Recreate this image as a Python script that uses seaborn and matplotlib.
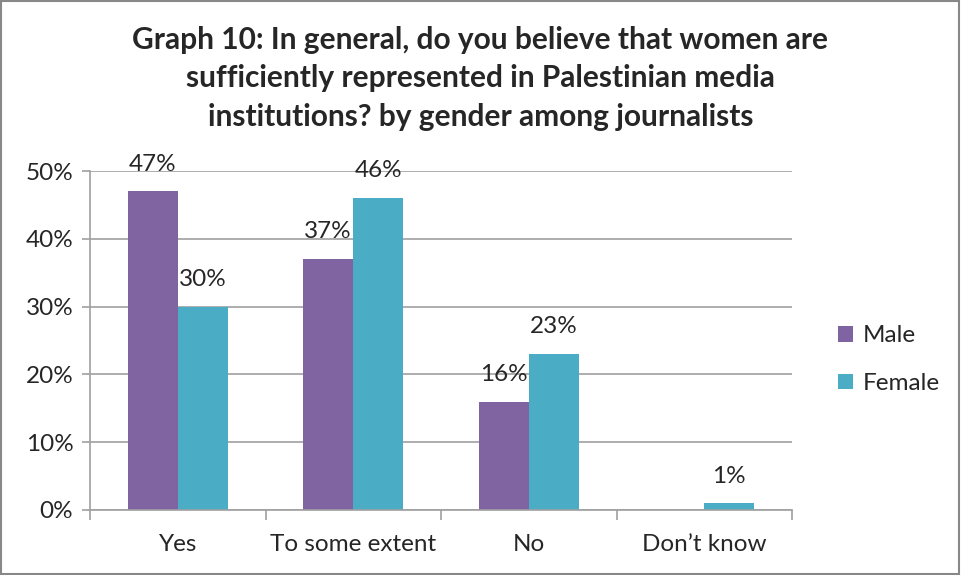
import matplotlib
matplotlib.use("Agg")
import matplotlib.pyplot as plt
import seaborn as sns
import pandas as pd
from matplotlib.patches import Rectangle

categories = ["Yes", "To some extent", "No", "Don\u2019t know"]
male = [47, 37, 16, 0]
female = [30, 46, 23, 1]
series = ["Male", "Female"]
title = ("Graph 10: In general, do you believe that women are\n"
         "sufficiently represented in Palestinian media\n"
         "institutions? by gender among journalists")

df = pd.DataFrame({
    "cat": categories * 2,
    "val": male + female,
    "gender": ["Male"] * len(categories) + ["Female"] * len(categories),
})

sns.set_theme(style="white")
plt.rcParams['font.family'] = ['Lato', 'DejaVu Sans']

fig = plt.figure(figsize=(9.61, 5.75), dpi=100)
ax = fig.add_axes([90/961, 1-510/575, (792-90)/961, (510-171)/575])

palette = {"Male": "#8064A2", "Female": "#4BACC6"}
sns.barplot(data=df, x="cat", y="val", hue="gender", order=categories,
            hue_order=series, palette=palette, width=0.57, ax=ax,
            saturation=1, linewidth=0)

fs = 17.5
ax.set_ylim(0, 50)
ax.set_xlim(-0.5, len(categories) - 0.5)
ax.set_yticks(range(0, 51, 10))
ax.set_yticklabels([f"{v}%" for v in range(0, 51, 10)], fontsize=fs)
ax.yaxis.grid(True, color="#A0A0A0", linewidth=1.2)
ax.set_axisbelow(True)
ax.set_xlabel("")
ax.set_ylabel("")
ax.set_xticks(range(len(categories)))
ax.set_xticklabels(categories, fontsize=fs)
ax.tick_params(axis="x", length=0, pad=17)
ax.tick_params(axis="y", length=6, color="#A0A0A0", width=1.2, left=True, pad=6)
ax.set_xticks([i - 0.5 for i in range(len(categories) + 1)], minor=True)
ax.tick_params(axis="x", which="minor", length=7, color="#A0A0A0", width=1.2, bottom=True, direction="out")
for s in ["top", "right"]:
    ax.spines[s].set_visible(False)
for s in ["left", "bottom"]:
    ax.spines[s].set_color("#A0A0A0")
    ax.spines[s].set_linewidth(1.2)

for cont in ax.containers:
    labels = [f"{v:.0f}%" if v > 0 else "" for v in cont.datavalues]
    ax.bar_label(cont, labels=labels, fontsize=fs, padding=12)

handles, labs = ax.get_legend_handles_labels()
ax.legend(handles, labs, loc="center left", bbox_to_anchor=(1.035, 0.443),
          frameon=False, fontsize=fs, handlelength=0.6, handleheight=0.6,
          labelspacing=1.1, handletextpad=0.4)

fig.suptitle(title, fontsize=21.5, fontweight="bold", y=0.955, linespacing=1.45)

fig.add_artist(Rectangle((0.001, 0.001), 0.997, 0.997, transform=fig.transFigure,
                         fill=False, edgecolor="#888888", linewidth=1.5))

fig.savefig("out.png", dpi=100)
